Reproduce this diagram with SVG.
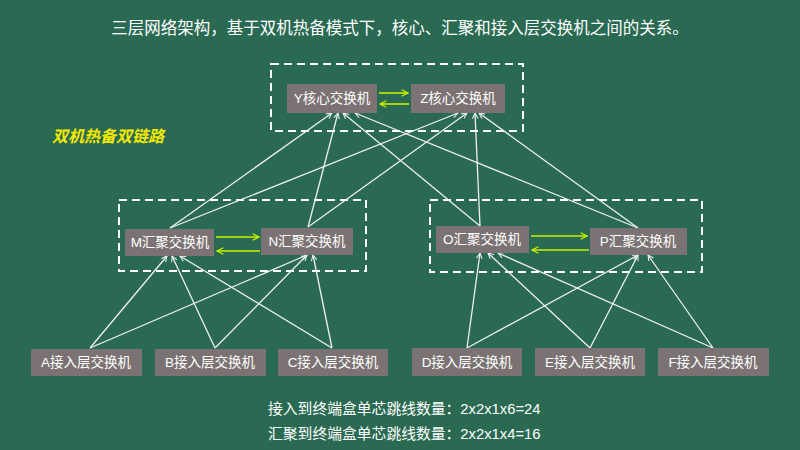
<svg xmlns="http://www.w3.org/2000/svg" width="800" height="450" viewBox="0 0 800 450">
<style>
.bg{fill:#2a6a52}
.box{fill:#7b7373}
.t{font-family:"Liberation Sans","Noto Sans CJK SC",sans-serif;fill:#fff;font-size:13.5px;text-anchor:middle}
.dash{fill:none;stroke:#fff;stroke-width:2;stroke-dasharray:8,5}
.ln{stroke:#f0f0f0;stroke-width:1.3;fill:none;marker-end:url(#aw)}
.yl{stroke:#c8f000;stroke-width:1.6;fill:none;marker-end:url(#ay)}
</style>
<defs>
<marker id="aw" viewBox="0 0 10 10" refX="9" refY="5" markerWidth="7" markerHeight="7" orient="auto" markerUnits="userSpaceOnUse"><path d="M1,1 L9,5 L1,9" fill="none" stroke="#f0f0f0" stroke-width="1.5"/></marker>
<marker id="ay" viewBox="0 0 10 10" refX="9" refY="5" markerWidth="8" markerHeight="8" orient="auto" markerUnits="userSpaceOnUse"><path d="M1,1 L9,5 L1,9" fill="none" stroke="#c8f000" stroke-width="1.5"/></marker>
</defs>
<rect class="bg" width="800" height="450"/>
<text x="400" y="34" class="t" style="font-size:16.5px">三层网络架构，基于双机热备模式下，核心、汇聚和接入层交换机之间的关系。</text>
<text x="52" y="142" style="font-family:'Noto Sans CJK SC',sans-serif;font-size:16px;font-weight:bold;font-style:italic;fill:#f5e900">双机热备双链路</text>
<rect class="dash" x="271" y="64" width="252" height="67"/>
<rect class="dash" x="119" y="200" width="247" height="71"/>
<rect class="dash" x="430" y="200" width="272" height="72"/>
<g id="connectors">
<line class="yl" x1="379" y1="93" x2="408" y2="93"/><line class="yl" x1="409" y1="104" x2="380" y2="104"/>
<line class="yl" x1="216" y1="237" x2="259" y2="237"/><line class="yl" x1="260" y1="251" x2="217" y2="251"/>
<line class="yl" x1="531" y1="236" x2="587" y2="236"/><line class="yl" x1="589" y1="250" x2="532" y2="250"/>
<line class="ln" x1="170" y1="228" x2="332" y2="113"/>
<line class="ln" x1="308" y1="227" x2="338" y2="113"/>
<line class="ln" x1="480" y1="226" x2="343" y2="113"/>
<line class="ln" x1="638" y1="228" x2="355" y2="113"/>
<line class="ln" x1="170" y1="228" x2="458" y2="113"/>
<line class="ln" x1="308" y1="227" x2="467" y2="113"/>
<line class="ln" x1="480" y1="226" x2="475" y2="113"/>
<line class="ln" x1="638" y1="228" x2="479" y2="113"/>
<line class="ln" x1="90" y1="348" x2="167" y2="256"/>
<line class="ln" x1="215" y1="348" x2="172" y2="256"/>
<line class="ln" x1="332" y1="348" x2="180" y2="256"/>
<line class="ln" x1="90" y1="348" x2="307" y2="255"/>
<line class="ln" x1="215" y1="348" x2="307" y2="255"/>
<line class="ln" x1="332" y1="348" x2="313" y2="255"/>
<line class="ln" x1="467" y1="348" x2="480" y2="253"/>
<line class="ln" x1="590" y1="348" x2="488" y2="253"/>
<line class="ln" x1="713" y1="348" x2="498" y2="253"/>
<line class="ln" x1="467" y1="348" x2="638" y2="255"/>
<line class="ln" x1="590" y1="348" x2="638" y2="255"/>
<line class="ln" x1="713" y1="348" x2="648" y2="255"/>
</g>
<g id="Y"><rect class="box" x="287" y="84" width="90" height="29"/><text class="t" x="332" y="103">Y核心交换机</text></g>
<g id="Z"><rect class="box" x="411" y="84" width="94" height="29"/><text class="t" x="458" y="103">Z核心交换机</text></g>
<g id="M"><rect class="box" x="125" y="229" width="89" height="27"/><text class="t" x="170" y="247">M汇聚交换机</text></g>
<g id="N"><rect class="box" x="261" y="228" width="92" height="27"/><text class="t" x="307" y="246">N汇聚交换机</text></g>
<g id="O"><rect class="box" x="436" y="226" width="93" height="27"/><text class="t" x="482" y="244">O汇聚交换机</text></g>
<g id="P"><rect class="box" x="590" y="228" width="97" height="27"/><text class="t" x="638" y="246">P汇聚交换机</text></g>
<g id="A"><rect class="box" x="31" y="349" width="111" height="27"/><text class="t" x="86" y="367">A接入层交换机</text></g>
<g id="B"><rect class="box" x="155" y="349" width="111" height="27"/><text class="t" x="210" y="367">B接入层交换机</text></g>
<g id="C"><rect class="box" x="278" y="349" width="110" height="27"/><text class="t" x="333" y="367">C接入层交换机</text></g>
<g id="D"><rect class="box" x="412" y="348" width="110" height="28"/><text class="t" x="467" y="367">D接入层交换机</text></g>
<g id="E"><rect class="box" x="535" y="348" width="110" height="28"/><text class="t" x="590" y="367">E接入层交换机</text></g>
<g id="F"><rect class="box" x="658" y="348" width="111" height="28"/><text class="t" x="713" y="367">F接入层交换机</text></g>
<text x="268" y="414" class="t" style="text-anchor:start;font-size:14.8px">接入到终端盒单芯跳线数量：2x2x1x6=24</text>
<text x="268" y="439" class="t" style="text-anchor:start;font-size:14.8px">汇聚到终端盒单芯跳线数量：2x2x1x4=16</text>
</svg>
